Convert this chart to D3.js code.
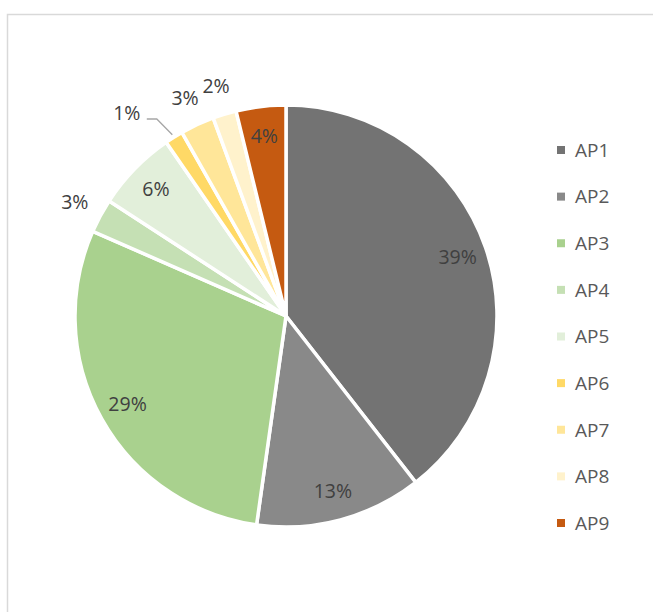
<!DOCTYPE html>
<html>
<head>
<meta charset="utf-8">
<script src="https://cdn.jsdelivr.net/npm/d3@7"></script>
<style>
  html, body { margin: 0; padding: 0; background: #fff; }
  svg { display: block; }
</style>
</head>
<body>
<div id="chart"></div>
<script>
// slice data (percent of total)
const categories = ["AP1", "AP2", "AP3", "AP4", "AP5", "AP6", "AP7", "AP8", "AP9"];
const values = [39.4, 12.75, 29.3, 2.6, 6.2, 1.4, 2.6, 1.8, 3.8];
const labels = ["39%", "13%", "29%", "3%", "6%", "1%", "3%", "2%", "4%"];
const colors = ["#737373", "#898989", "#a9d18e", "#c5e0b4", "#e2efda", "#ffd966", "#ffe699", "#fff2cc", "#c55a11"];
const outside = [false, false, false, true, false, true, true, true, false];

const width = 653, height = 612;
const cx = 286, cy = 316, radius = 211;

const svg = d3.select("#chart").append("svg")
  .attr("width", width)
  .attr("height", height);

// chart area border (runs off the right and bottom edges)
svg.append("rect")
  .attr("x", 7.5).attr("y", 14.5)
  .attr("width", width + 20).attr("height", height + 20)
  .attr("fill", "none")
  .attr("stroke", "#d9d9d9")
  .attr("stroke-width", 1.5);

const pie = d3.pie().sort(null).value(d => d);
const arcs = pie(values);
const arc = d3.arc().innerRadius(0).outerRadius(radius);

const g = svg.append("g").attr("transform", `translate(${cx},${cy})`);

g.selectAll("path.slice")
  .data(arcs)
  .enter().append("path")
  .attr("class", "slice")
  .attr("d", arc)
  .attr("fill", (d, i) => colors[i])
  .attr("stroke", "#fff")
  .attr("stroke-width", 3.5)
  .attr("stroke-linejoin", "miter");

function polar(a, r) {
  return [r * Math.sin(a), -r * Math.cos(a)];
}

// label spot: inside ones near the rim, outside ones beyond it
function labelPos(d, i) {
  const mid = (d.startAngle + d.endAngle) / 2;
  if (!outside[i]) return polar(mid, radius * 0.86);
  if (categories[i] === "AP6") return polar(mid - 0.105, 258);
  return polar(mid, 240);
}

// leader line for the small AP6 slice
arcs.forEach((d, i) => {
  if (categories[i] !== "AP6") return;
  const mid = (d.startAngle + d.endAngle) / 2;
  const p = labelPos(d, i);
  const end = polar(mid, radius + 3);
  const start = [p[0] + 20, p[1] + 6];
  const bend = [start[0] + 10, start[1]];
  g.append("polyline")
    .attr("points", [start, bend, end].map(q => q.join(",")).join(" "))
    .attr("fill", "none")
    .attr("stroke", "#a6a6a6")
    .attr("stroke-width", 1.3);
});

g.selectAll("text.pct")
  .data(arcs)
  .enter().append("text")
  .attr("class", "pct")
  .attr("x", (d, i) => labelPos(d, i)[0])
  .attr("y", (d, i) => labelPos(d, i)[1])
  .attr("dy", "0.35em")
  .attr("text-anchor", "middle")
  .attr("font-family", "'Open Sans', sans-serif")
  .attr("font-size", 19.5)
  .attr("fill", "#404040")
  .text((d, i) => labels[i]);

// legend on the right
const legendY = d3.scalePoint().domain(categories).range([150, 523]);

const legend = svg.append("g");
const item = legend.selectAll("g")
  .data(categories)
  .enter().append("g")
  .attr("transform", d => `translate(557,${legendY(d)})`);

item.append("rect")
  .attr("x", 0).attr("y", -4)
  .attr("width", 8).attr("height", 8)
  .attr("fill", (d, i) => colors[i]);

item.append("text")
  .attr("x", 18)
  .attr("dy", "0.36em")
  .attr("font-family", "'Open Sans', sans-serif")
  .attr("font-size", 19)
  .attr("fill", "#595959")
  .text(d => d);
</script>
</body>
</html>
